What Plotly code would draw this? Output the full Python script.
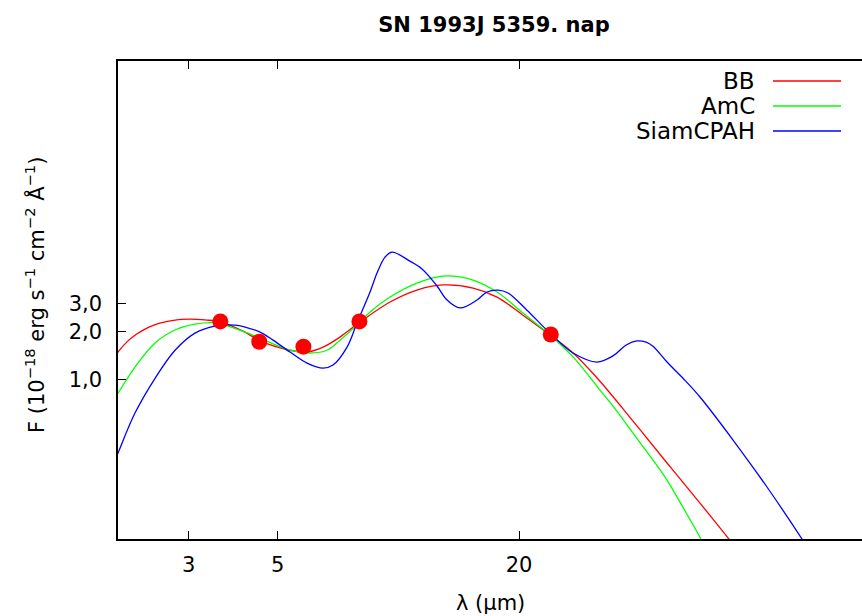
import plotly.graph_objects as go

# ---- data (wavelength in micron, flux in 1e-18 erg s^-1 cm^-2 A^-1) ----
obs_wl = [3.6, 4.5, 5.8, 8.0, 24.0]
obs_flux = [2.32, 1.73, 1.61, 2.32, 1.92]

bb_wl = [1.899, 2.00, 2.106, 2.218, 2.336, 2.459, 2.590, 2.728, 2.872, 3.024, 3.296, 3.613,
         4.146, 4.521, 5.370, 5.921, 6.492, 7.154, 8.03, 9.535, 11.13, 12.93, 15.36, 17.63,
         20.46, 23.89, 27.28, 31.48, 38.49, 46.79, 56.54, 66.80, 79.8]
bb_flux = [1.217, 1.49, 1.727, 1.919, 2.078, 2.201, 2.289, 2.350, 2.388, 2.40, 2.37, 2.30,
           1.99, 1.75, 1.53, 1.49, 1.60, 1.85, 2.30, 3.07, 3.65, 3.93, 3.76, 3.30,
           2.54, 1.91, 1.47, 1.01, 0.550, 0.300, 0.168, 0.0999, 0.0568]

amc_wl = [1.90, 2.00, 2.205, 2.474, 2.775, 3.112, 3.491, 4.146, 4.521, 5.370, 6.023, 6.641, 7.154,
          7.888, 8.503, 9.535, 11.13, 12.93, 15.36, 17.63, 20.46, 23.89, 27.28, 31.85, 35.0, 38.49,
          42.5, 46.79, 51.5, 56.87, 63.43]
amc_flux = [0.69, 0.824, 1.20, 1.70, 2.05, 2.23, 2.27, 1.99, 1.82, 1.53, 1.47, 1.53, 1.77,
            2.20, 2.66, 3.30, 4.04, 4.47, 4.22, 3.55, 2.62, 1.91, 1.39, 0.860, 0.640, 0.462,
            0.330, 0.234, 0.155, 0.0999, 0.0593]

pah_wl = [1.90, 2.00, 2.205, 2.474, 2.775, 3.112, 3.491, 3.915, 4.146, 4.521, 4.872, 5.370, 5.921,
          6.492, 6.875, 7.451, 7.888, 8.503, 8.851, 9.266, 9.645, 10.69, 11.46, 12.49, 13.23,
          14.26, 15.72, 16.64, 17.73, 18.78, 20.94, 23.89, 27.28, 31.31, 34.31, 37.0, 39.38, 41.5,
          43.17, 46.79, 51.29, 56.54, 68.35, 83.07, 101.6, 112.6]
pah_flux = [0.25, 0.346, 0.617, 1.02, 1.53, 1.96, 2.17, 2.20, 2.14, 1.99, 1.77, 1.49, 1.27,
            1.18, 1.235, 1.60, 2.27, 3.55, 4.67, 5.88, 6.32, 5.55, 4.95, 3.87, 3.16,
            2.82, 3.16, 3.55, 3.65, 3.50, 2.73, 1.96, 1.47, 1.29, 1.41, 1.65, 1.75, 1.72,
            1.62, 1.29, 1.02, 0.778, 0.418, 0.212, 0.0999, 0.0666]

series_names = ["BB", "AmC", "SiamCPAH"]
series_colors = ["#ff0000", "#00ff00", "#0000ff"]

x_ticks = [3, 5, 20]
x_ticktext = ["3", "5", "20"]
y_ticks = [1, 2, 3]
y_ticktext = ["1,0", "2,0", "3,0"]

FONT = "DejaVu Sans"

fig = go.Figure()
for wl, fl, name, col in zip([bb_wl, amc_wl, pah_wl], [bb_flux, amc_flux, pah_flux],
                             series_names, series_colors):
    fig.add_trace(go.Scatter(x=wl, y=fl, mode="lines", name=name,
                             line=dict(color=col, width=1.3, shape="spline", smoothing=1.0),
                             showlegend=False))

fig.add_trace(go.Scatter(x=obs_wl, y=obs_flux, mode="markers", name="obs",
                         marker=dict(color="#ff0000", size=16, line=dict(width=0)),
                         showlegend=False))

# gnuplot-style key: text right-aligned, sample line on the right
L, R, T, B = 118, 862, 61, 539
W, H = R - L, B - T
def px(xp):
    return (xp - L) / W
def py(yp):
    return (B - yp) / H

for i, (name, col) in enumerate(zip(series_names, series_colors)):
    yy = py(81 + 25 * i)
    fig.add_shape(type="line", xref="paper", yref="paper", x0=px(773), x1=px(841),
                  y0=yy, y1=yy, line=dict(color=col, width=1.5))
    fig.add_annotation(xref="paper", yref="paper", x=px(757), y=yy, text=name,
                       showarrow=False, xanchor="right", yanchor="middle",
                       font=dict(family=FONT, size=23, color="black"))

fig.add_annotation(xref="paper", yref="paper", x=px(35), y=py(295),
                   text="F (10<sup>\u221218</sup> erg s<sup>\u22121</sup> cm<sup>\u22122</sup> \u00c5<sup>\u22121</sup>)",
                   textangle=-90, showarrow=False, xanchor="center", yanchor="middle",
                   font=dict(family=FONT, size=21, color="black"))
fig.add_annotation(xref="paper", yref="paper", x=px(490), y=py(603),
                   text="\u03bb (\u03bcm)", showarrow=False, xanchor="center", yanchor="middle",
                   font=dict(family=FONT, size=21, color="black"))

fig.update_layout(
    width=862, height=616,
    margin=dict(l=L, r=862 - R, t=T, b=616 - B),
    paper_bgcolor="white", plot_bgcolor="white",
    title=dict(text="<b>SN 1993J 5359. nap</b>", x=494 / 862, xanchor="center",
               y=1 - 25 / 616, yanchor="middle", yref="container",
               font=dict(family=FONT, size=21, color="black")),
    xaxis=dict(type="log", range=[0.30103, 0.30103 + W / 401.0],
               tickvals=x_ticks, ticktext=x_ticktext, ticks="inside", ticklen=8,
               tickwidth=1, tickcolor="black", showline=True, linecolor="black",
               linewidth=1.5, mirror="ticks", showgrid=False, zeroline=False,
               ticklabelstandoff=6,
               tickfont=dict(family=FONT, size=21, color="black")),
    yaxis=dict(type="log", range=[-1, 2],
               tickvals=y_ticks, ticktext=y_ticktext, ticks="inside", ticklen=8,
               tickwidth=1, tickcolor="black", showline=True, linecolor="black",
               linewidth=1.5, mirror=False, showgrid=False, zeroline=False,
               ticklabelstandoff=10,
               tickfont=dict(family=FONT, size=21, color="black")),
)

fig.write_html("out.html")
